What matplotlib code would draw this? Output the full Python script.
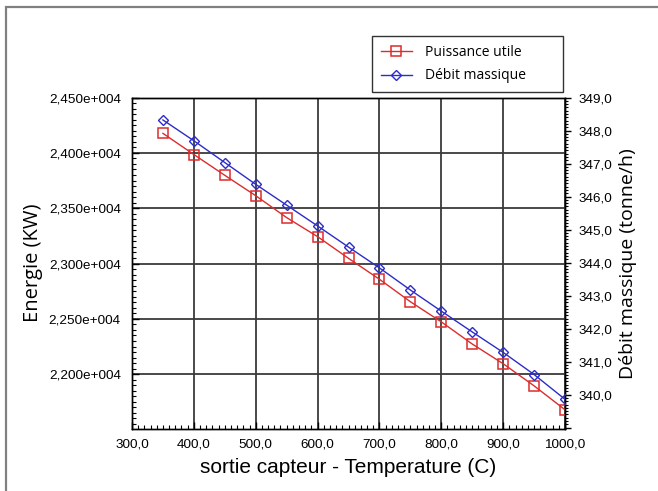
import matplotlib
matplotlib.use("Agg")
import matplotlib.pyplot as plt
from matplotlib.ticker import MultipleLocator, FuncFormatter
from matplotlib.lines import Line2D
from matplotlib.patches import Rectangle

temperature = [350, 400, 450, 500, 550, 600, 650, 700, 750, 800, 850, 900, 950, 1000]
puissance_utile = [24176, 23985, 23797, 23613, 23415, 23243, 23047, 22858,
                   22655, 22473, 22273, 22095, 21895, 21679]
debit_massique = [348.32, 347.69, 347.03, 346.37, 345.74, 345.11, 344.47, 343.84,
                  343.17, 342.53, 341.90, 341.28, 340.61, 339.86]

W, H = 658, 491
fig = plt.figure(figsize=(W / 100, H / 100), dpi=100)
fig.patch.set_facecolor("white")

# outer frame (left and top visible)
fig.add_artist(Rectangle((6 / W, -0.05), 1.2, 1 - 7 / H + 0.05,
                         transform=fig.transFigure, fill=False,
                         edgecolor="#808080", lw=1.6))

L, R, T, B = 132, 565, 97.5, 429
ax = fig.add_axes([L / W, 1 - B / H, (R - L) / W, (B - T) / H])
ax2 = ax.twinx()

red = "#dc2c2c"
blue = "#2c2cc8"

ax.plot(temperature, puissance_utile, color=red, lw=1.0, marker="s",
        markersize=7.5, markerfacecolor="none", markeredgecolor=red,
        markeredgewidth=1.1, zorder=5)
ax2.plot(temperature, debit_massique, color=blue, lw=1.0, marker="D",
         markersize=5.5, markerfacecolor="none", markeredgecolor=blue,
         markeredgewidth=1.0, zorder=5)

ax.set_xlim(300, 1000)
ax.set_ylim(21505, 24500)
ax2.set_ylim(338.96, 349.0)

ax.xaxis.set_major_locator(MultipleLocator(100))
ax.xaxis.set_minor_locator(MultipleLocator(10))
ax.yaxis.set_major_locator(MultipleLocator(500))
ax.yaxis.set_minor_locator(MultipleLocator(50))
ax2.yaxis.set_major_locator(MultipleLocator(1.0))
ax2.yaxis.set_minor_locator(MultipleLocator(0.1))


def fmt_x(v, p):
    return f"{v:.1f}".replace(".", ",")


def fmt_left(v, p):
    return f"{v / 1e4:.3f}".replace(".", ",") + "e+004"


def fmt_right(v, p):
    if v < 339.5:
        return ""
    return f"{v:.1f}".replace(".", ",")


ax.xaxis.set_major_formatter(FuncFormatter(fmt_x))
ax.yaxis.set_major_formatter(FuncFormatter(fmt_left))
ax2.yaxis.set_major_formatter(FuncFormatter(fmt_right))

ax.grid(True, which="major", color="#3a3a3a", lw=1.3)
ax.set_axisbelow(True)

tickfont = "Liberation Sans"
ax.tick_params(axis="both", which="major", direction="in", length=5, width=1,
               labelsize=9.7, colors="black")
ax.tick_params(axis="both", which="minor", direction="in", length=3, width=0.8)
ax.tick_params(axis="y", which="major", pad=8)
ax.tick_params(axis="x", which="major", pad=7)
ax2.tick_params(axis="y", which="major", direction="out", length=4, width=1,
                labelsize=9.7, pad=5.5)
ax2.tick_params(axis="y", which="minor", direction="out", length=2.5, width=0.8)
for lab in ax.get_xticklabels() + ax.get_yticklabels() + ax2.get_yticklabels():
    lab.set_fontfamily(tickfont)

for a in (ax, ax2):
    for s in a.spines.values():
        s.set_color("black")
        s.set_linewidth(1.0)

ax.set_xlabel("sortie capteur - Temperature (C)", fontsize=15,
              fontfamily="Liberation Sans", labelpad=5)
ax.set_ylabel("Energie (KW)", fontsize=14.5, fontfamily="Open Sans", labelpad=4)
ax2.set_ylabel("Débit massique (tonne/h)", fontsize=14, fontfamily="Open Sans",
               labelpad=5)

handles = [
    Line2D([], [], color=red, lw=1.0, marker="s", markersize=7.5,
           markerfacecolor="none", markeredgecolor=red, markeredgewidth=1.1),
    Line2D([], [], color=blue, lw=1.0, marker="D", markersize=5.5,
           markerfacecolor="none", markeredgecolor=blue, markeredgewidth=1.0),
]
x0, x1, y0, y1 = 372, 563, 36, 89
leg = fig.legend(handles, ["Puissance utile", "Débit massique"],
                 loc="upper left",
                 bbox_to_anchor=(x0 / W, 1 - y1 / H, (x1 - x0) / W, (y1 - y0) / H),
                 mode="expand",
                 frameon=True, fancybox=False, edgecolor="black",
                 prop={"family": "Open Sans", "size": 10},
                 handlelength=2.2, borderpad=0.65, labelspacing=0.6,
                 handletextpad=0.95, borderaxespad=0)
leg.get_frame().set_linewidth(1.0)

fig.savefig("out.png", dpi=100, facecolor="white")
